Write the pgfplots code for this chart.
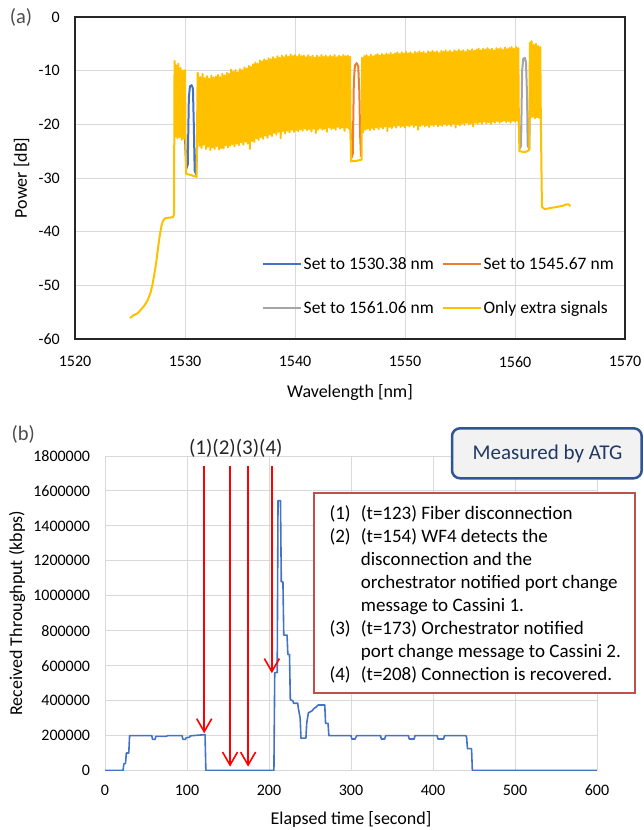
\documentclass[border=0pt]{standalone}
\usepackage{pgfplots}
\pgfplotsset{compat=1.18}
\usepackage{fontspec}
\setmainfont{Carlito}
\usetikzlibrary{arrows.meta}
\definecolor{xblue}{HTML}{4472C4}
\definecolor{xorange}{HTML}{ED7D31}
\definecolor{xgray}{HTML}{A5A5A5}
\definecolor{xgold}{HTML}{FFC000}
\definecolor{gridc}{HTML}{D9D9D9}
\definecolor{boxred}{HTML}{C0504D}
\definecolor{atgblue}{HTML}{2F5597}
\definecolor{atgtext}{HTML}{1F3864}
\definecolor{atgfill}{HTML}{F2F2F2}
\begin{document}
\begin{tikzpicture}[x=1pt,y=1pt]
\useasboundingbox (0,0) rectangle (644,830);

% ---------------- panel (a) ----------------
\begin{axis}[
 at={(75pt,491pt)}, anchor=south west, scale only axis, width=550pt, height=322pt,
 xmin=1520, xmax=1570, ymin=-60, ymax=0,
 xtick={1520,1530,1540,1550,1560,1570}, ytick={-60,-50,-40,-30,-20,-10,0},
 grid=major, major grid style={gridc, line width=0.9pt},
 major tick length=0pt,
 axis line style={black!85, line width=1.3pt},
 /pgf/number format/assume math mode=true,
 /pgf/number format/1000 sep={},
 tick label style={font=\fontsize{16}{19}\selectfont, text=black},
 yticklabel style={xshift=-11.7pt},
 xticklabel style={yshift=-13.7pt},
 xlabel={Wavelength [nm]}, ylabel={Power [dB]},
 label style={font=\fontsize{18}{21}\selectfont},
 xlabel style={at={(axis description cs:0.5,-0.1677)}, anchor=center},
 ylabel style={at={(axis description cs:-0.0973,0.5)}, anchor=center},
 legend columns=2,
 legend style={draw=none, fill=none, at={(axis description cs:0.3395,0.258)}, anchor=north west,
   font=\fontsize{17.5}{20}\selectfont, row sep=27pt, inner sep=0pt, nodes={inner sep=1.5pt},
   /tikz/every even column/.append style={column sep=6.5pt}},
 legend image code/.code={\draw[#1, line width=2.3pt] (0pt,0pt) -- (38pt,0pt);},
 legend cell align=left,
 every axis plot/.append style={line width=2pt, line join=round},
]
\addplot[xblue] coordinates {(1530.0,-22.6)(1530.12,-28.3)(1530.25,-27.5)(1530.35,-15.0)(1530.45,-12.9)(1530.6,-12.7)(1530.72,-13.3)(1530.8,-20.0)(1530.88,-28.6)(1531.0,-29.3)(1531.1,-24.0)};
\addlegendentry{Set to 1530.38 nm}
\addplot[xorange] coordinates {(1545.05,-20.8)(1545.15,-26.2)(1545.25,-25.5)(1545.35,-12.0)(1545.45,-9.0)(1545.6,-8.6)(1545.75,-9.2)(1545.85,-14.0)(1545.92,-22.0)(1546.0,-26.0)};
\addlegendentry{Set to 1545.67 nm}
\addplot[xgray] coordinates {(1560.35,-19.5)(1560.45,-24.5)(1560.55,-24.0)(1560.65,-10.0)(1560.75,-7.8)(1560.9,-7.6)(1561.0,-8.5)(1561.1,-15.0)(1561.15,-24.0)(1561.3,-24.6)(1561.4,-10.0)};
\addlegendentry{Set to 1561.06 nm}
\addplot[xgold] coordinates {
(1525.0,-56.1)(1525.3,-55.6)(1525.7,-55.2)(1526.0,-54.5)(1526.3,-53.8)(1526.6,-52.8)(1526.85,-51.5)(1527.05,-49.8)(1527.25,-47.5)(1527.4,-45.5)(1527.55,-43.0)(1527.7,-40.8)(1527.85,-39.0)(1528.0,-38.0)(1528.2,-37.5)(1528.5,-37.4)(1528.9,-37.3)(1529.0,-36.8)
(1529.05,-8.2)(1529.1,-22.3)(1529.2,-9.0)(1529.3,-22.6)(1529.4,-8.7)(1529.5,-22.4)(1529.6,-9.5)(1529.7,-22.9)(1529.8,-10.0)(1529.9,-22.7)(1530.0,-9.9)(1530.05,-23.2)
(1530.1,-29.2)(1530.6,-29.5)(1531.05,-29.8)(1531.15,-10.4)
(1531.2,-10.8)(1531.3,-24.0)(1531.4,-11.2)(1531.5,-24.4)(1531.6,-10.6)(1531.7,-23.8)(1531.8,-11.4)(1531.9,-24.6)
(1532.0,-11.0)(1532.1,-24.2)(1532.2,-11.5)(1532.3,-24.8)(1532.4,-10.9)(1532.5,-24.3)(1532.6,-11.3)(1532.7,-24.6)(1532.8,-11.1)(1532.9,-24.1)
(1533.0,-10.8)(1533.1,-24.7)(1533.2,-11.2)(1533.3,-24.4)(1533.4,-10.6)(1533.5,-24.5)(1533.6,-10.9)(1533.7,-23.9)(1533.8,-10.4)(1533.9,-24.3)
(1534.0,-10.6)(1534.1,-24.0)(1534.2,-9.8)(1534.3,-23.7)(1534.4,-10.2)(1534.5,-24.1)(1534.6,-9.9)(1534.7,-23.6)(1534.8,-10.3)(1534.9,-23.9)
(1535.0,-9.7)(1535.1,-23.4)(1535.2,-9.9)(1535.3,-23.8)(1535.4,-9.4)(1535.5,-23.2)(1535.6,-9.6)(1535.7,-23.6)(1535.8,-9.1)(1535.9,-24.6)
(1536.0,-9.3)(1536.1,-23.1)(1536.2,-8.8)(1536.3,-23.3)(1536.4,-8.5)(1536.5,-22.6)(1536.6,-8.7)(1536.7,-22.9)(1536.8,-8.1)(1536.9,-22.4)
(1537.0,-8.3)(1537.1,-22.7)(1537.2,-7.9)(1537.3,-22.1)(1537.4,-8.1)(1537.5,-22.5)(1537.6,-7.7)(1537.7,-21.9)(1537.8,-7.9)(1537.9,-22.2)
(1538.0,-7.5)(1538.1,-21.6)(1538.2,-7.8)(1538.3,-21.9)(1538.4,-7.3)(1538.5,-21.4)(1538.6,-7.6)(1538.7,-22.6)(1538.8,-7.2)(1538.9,-21.3)
(1539.0,-7.5)(1539.1,-21.7)(1539.2,-7.1)(1539.3,-21.2)(1539.4,-7.4)(1539.5,-21.5)(1539.6,-7.0)(1539.7,-21.0)(1539.8,-7.3)(1539.9,-21.4)
(1540.0,-7.1)(1540.1,-21.1)(1540.2,-7.4)(1540.3,-21.3)(1540.4,-7.0)(1540.5,-20.9)(1540.6,-7.3)(1540.7,-21.2)(1540.8,-7.2)(1540.9,-20.8)
(1541.0,-7.5)(1541.1,-21.1)(1541.2,-7.1)(1541.3,-20.9)(1541.4,-7.4)(1541.5,-21.3)(1541.6,-7.2)(1541.7,-20.8)(1541.8,-7.6)(1541.9,-21.6)
(1542.0,-7.2)(1542.1,-21.0)(1542.2,-7.5)(1542.3,-20.7)(1542.4,-7.1)(1542.5,-21.0)(1542.6,-7.4)(1542.7,-20.8)(1542.8,-7.2)(1542.9,-21.4)
(1543.0,-7.5)(1543.1,-20.6)(1543.2,-7.2)(1543.3,-20.9)(1543.4,-7.4)(1543.5,-20.7)(1543.6,-7.1)(1543.7,-21.0)(1543.8,-7.5)(1543.9,-20.5)
(1544.0,-7.2)(1544.1,-20.8)(1544.2,-7.4)(1544.3,-20.6)(1544.4,-7.1)(1544.5,-21.2)(1544.6,-7.3)(1544.7,-20.6)(1544.8,-7.2)(1544.9,-20.8)
(1545.0,-7.4)(1545.05,-20.7)
(1545.1,-26.9)(1545.6,-26.8)(1546.05,-26.6)(1546.1,-7.6)
(1546.2,-21.5)(1546.3,-7.3)(1546.4,-21.0)(1546.5,-7.1)(1546.6,-20.8)(1546.7,-7.4)(1546.8,-21.1)(1546.9,-7.0)
(1547.0,-20.7)(1547.1,-7.3)(1547.2,-21.0)(1547.3,-7.1)(1547.4,-20.6)(1547.5,-6.9)(1547.6,-20.9)(1547.7,-7.2)(1547.8,-20.5)(1547.9,-6.9)
(1548.0,-20.8)(1548.1,-7.1)(1548.2,-20.4)(1548.3,-6.8)(1548.4,-21.3)(1548.5,-7.0)(1548.6,-20.5)(1548.7,-6.7)(1548.8,-20.7)(1548.9,-7.0)
(1549.0,-20.3)(1549.1,-6.8)(1549.2,-20.6)(1549.3,-6.6)(1549.4,-20.2)(1549.5,-6.9)(1549.6,-20.5)(1549.7,-6.6)(1549.8,-20.3)(1549.9,-6.8)
(1550.0,-20.6)(1550.1,-6.5)(1550.2,-20.2)(1550.3,-6.8)(1550.4,-20.4)(1550.5,-6.6)(1550.6,-20.1)(1550.7,-6.9)(1550.8,-20.5)(1550.9,-6.5)
(1551.0,-20.2)(1551.1,-6.7)(1551.2,-21.0)(1551.3,-6.4)(1551.4,-20.3)(1551.5,-6.7)(1551.6,-20.1)(1551.7,-6.5)(1551.8,-20.4)(1551.9,-6.8)
(1552.0,-20.2)(1552.1,-6.4)(1552.2,-20.5)(1552.3,-6.6)(1552.4,-20.1)(1552.5,-6.3)(1552.6,-20.3)(1552.7,-6.6)(1552.8,-20.0)(1552.9,-6.4)
(1553.0,-20.4)(1553.1,-6.7)(1553.2,-20.1)(1553.3,-6.3)(1553.4,-20.3)(1553.5,-6.5)(1553.6,-19.9)(1553.7,-6.2)(1553.8,-20.2)(1553.9,-6.5)
(1554.0,-20.0)(1554.1,-6.3)(1554.2,-20.3)(1554.3,-6.6)(1554.4,-19.9)(1554.5,-6.2)(1554.6,-20.6)(1554.7,-6.4)(1554.8,-20.0)(1554.9,-6.1)
(1555.0,-20.2)(1555.1,-6.4)(1555.2,-19.8)(1555.3,-6.2)(1555.4,-20.1)(1555.5,-6.5)(1555.6,-19.7)(1555.7,-6.1)(1555.8,-20.0)(1555.9,-6.3)
(1556.0,-19.8)(1556.1,-6.0)(1556.2,-20.4)(1556.3,-6.3)(1556.4,-19.7)(1556.5,-6.1)(1556.6,-19.9)(1556.7,-5.9)(1556.8,-19.6)(1556.9,-6.2)
(1557.0,-19.9)(1557.1,-5.9)(1557.2,-19.5)(1557.3,-6.1)(1557.4,-19.8)(1557.5,-5.8)(1557.6,-19.6)(1557.7,-6.1)(1557.8,-19.9)(1557.9,-5.9)
(1558.0,-19.5)(1558.1,-6.2)(1558.2,-19.7)(1558.3,-5.8)(1558.4,-19.4)(1558.5,-6.0)(1558.6,-19.7)(1558.7,-5.8)(1558.8,-19.5)(1558.9,-6.1)
(1559.0,-19.3)(1559.1,-5.7)(1559.2,-19.6)(1559.3,-6.0)(1559.4,-19.4)(1559.5,-5.8)(1559.6,-19.7)(1559.7,-5.6)(1559.8,-19.3)(1559.9,-5.9)
(1560.0,-19.5)(1560.1,-5.6)(1560.2,-19.3)(1560.3,-5.8)(1560.35,-19.4)
(1560.4,-25.0)(1560.9,-25.2)(1561.3,-24.8)(1561.35,-4.8)
(1561.4,-18.9)(1561.5,-4.5)(1561.6,-18.6)(1561.7,-5.2)(1561.8,-18.9)(1561.9,-5.0)(1562.0,-18.7)(1562.1,-5.4)(1562.2,-18.8)(1562.3,-5.6)
(1562.35,-19.5)(1562.45,-35.4)(1562.7,-35.8)(1563.2,-35.6)(1563.8,-35.4)(1564.3,-35.2)(1564.7,-34.9)(1564.9,-34.9)(1565.0,-35.3)
};
\addlegendentry{Only extra signals}
\end{axis}
\node[font=\fontsize{20.5}{24}\selectfont, text=black!70] at (21,812.5) {(a)};

% ---------------- panel (b) ----------------
\begin{axis}[
 at={(105pt,59.5pt)}, anchor=south west, scale only axis, width=492pt, height=314.5pt,
 xmin=0, xmax=600, ymin=0, ymax=1800000,
 xtick={0,100,200,300,400,500,600},
 ytick={0,200000,400000,600000,800000,1000000,1200000,1400000,1600000,1800000},
 scaled y ticks=false, scaled x ticks=false,
 grid=major, major grid style={gridc, line width=0.9pt},
 axis line style={draw=none}, major tick length=0pt,
 /pgf/number format/assume math mode=true,
 tick label style={font=\fontsize{16}{19}\selectfont, text=black},
 yticklabel style={/pgf/number format/fixed, /pgf/number format/1000 sep={}, xshift=-11.4pt},
 xticklabel style={yshift=-11pt},
 xlabel={Elapsed time [second]}, ylabel={Received Throughput (kbps)},
 label style={font=\fontsize{18}{21}\selectfont},
 xlabel style={at={(axis description cs:0.5,-0.1542)}, anchor=center},
 ylabel style={at={(axis description cs:-0.1789,0.5)}, anchor=center},
]
\addplot[xblue, line width=1.6pt, line join=round] coordinates {
(0,0)(21,0)(22,0)(23,38000)(25,40000)(26,100000)(29,100000)(30,200000)(31,200000)(57,200000)(58,178000)(61,178000)(62,195000)(75,195000)(76,200000)
(94,200000)(95,178000)(98,178000)(99,188000)(103,190000)(104,198000)(108,200000)(122,205000)(123,0)
(206,0)(207,560000)(210,560000)(211,1545000)(214,1545000)(215,1080000)(217,1080000)(218,775000)(222,775000)(223,665000)(225,665000)
(226,405000)(229,400000)(230,385000)(235,385000)(236,350000)(238,300000)(239,185000)(245,185000)(246,270000)(248,330000)(252,340000)
(255,355000)(258,365000)(260,375000)(268,375000)(269,270000)(272,270000)(273,200000)
(300,200000)(301,180000)(305,180000)(306,190000)(307,200000)(336,200000)(337,180000)(341,180000)(342,195000)(343,200000)
(370,200000)(371,180000)(377,180000)(378,200000)(405,200000)(406,180000)(413,180000)(414,200000)(440,200000)(441,190000)
(442,125000)(447,125000)(448,0)(600,0)
};
\draw[red, line width=1.6pt, -{Straight Barb[length=13pt,width=15pt,line width=1.6pt]}] (axis cs:121,1742000) -- (axis cs:121,213000);
\draw[red, line width=1.6pt, -{Straight Barb[length=13pt,width=15pt,line width=1.6pt]}] (axis cs:152.5,1742000) -- (axis cs:152.5,22000);
\draw[red, line width=1.6pt, -{Straight Barb[length=13pt,width=15pt,line width=1.6pt]}] (axis cs:174.5,1742000) -- (axis cs:174.5,22000);
\draw[red, line width=1.6pt, -{Straight Barb[length=13pt,width=15pt,line width=1.6pt]}] (axis cs:203.5,1742000) -- (axis cs:203.5,557000);
\end{axis}

\node[font=\fontsize{20.5}{24}\selectfont, text=black!70] at (23.3,396) {(b)};
\node[font=\fontsize{21}{24}\selectfont, text=black!85] at (235.8,382) {(1)(2)(3)(4)};

\draw[boxred, line width=2.7pt, fill=white] (314,337) rectangle (635,137);
\node[anchor=north west, inner sep=0pt, font=\fontsize{19}{23}\selectfont] at (329.3,326.6) {%
\begin{tabular}{@{}p{31.4pt}@{}l@{}}
(1) & (t=123) Fiber disconnection\\
(2) & (t=154) WF4 detects the\\
    & disconnection and the\\
    & orchestrator notified port change\\
    & message to Cassini 1.\\
(3) & (t=173) Orchestrator notified\\
    & port change message to Cassini 2.\\
(4) & (t=208) Connection is recovered.
\end{tabular}};

\draw[atgblue, line width=2.5pt, fill=atgfill, rounded corners=8pt] (452,401.7) rectangle (641.7,351.7);
\node[text=atgtext, font=\fontsize{21}{24}\selectfont] at (547.5,376) {Measured by ATG};
\end{tikzpicture}
\end{document}
